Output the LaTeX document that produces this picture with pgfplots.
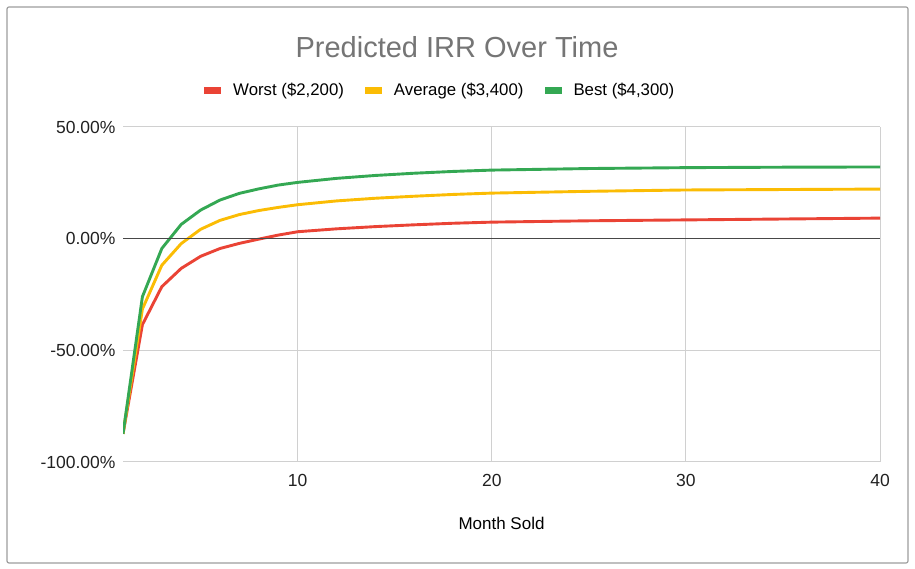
\documentclass[border=0pt]{standalone}
\usepackage{pgfplots}
\pgfplotsset{compat=1.18}
\usepackage{fontspec}
\setmainfont{Liberation Sans}
\definecolor{cred}{HTML}{EA4335}
\definecolor{cyellow}{HTML}{FBBC04}
\definecolor{cgreen}{HTML}{34A853}
\definecolor{titlegray}{HTML}{757575}
\definecolor{gridgray}{HTML}{D0D0D0}
\definecolor{framegray}{HTML}{9E9E9E}
\begin{document}
\begin{tikzpicture}
\fill[white] (0bp,0bp) rectangle (915bp,569bp);
\draw[framegray, line width=1.2bp, rounded corners=2bp] (7bp,6bp) rectangle (908bp,562bp);
\node[titlegray, font=\fontsize{29bp}{34bp}\selectfont] at (457bp,522bp) {Predicted IRR Over Time};
\begin{axis}[
  at={(123bp,107bp)}, anchor=south west,
  scale only axis, width=757bp, height=335bp,
  xmin=1, xmax=40, ymin=-100, ymax=50,
  xtick={10,20,30,40}, xticklabels={10,20,30,40},
  ytick={-100,-50,0,50}, yticklabels={-100.00\%,-50.00\%,0.00\%,50.00\%},
  axis line style={draw=none},
  major tick length=0pt,
  grid=major, grid style={gridgray, line width=1bp},
  ticklabel style={font=\fontsize{17.5bp}{21bp}\selectfont, text=black!87},
  xticklabel style={yshift=-9bp},
  yticklabel style={xshift=-4bp},
  xlabel={Month Sold},
  xlabel style={font=\fontsize{17bp}{21bp}\selectfont, at={(axis description cs:0.5,-0.182)}, anchor=center},
  legend columns=3,
  legend style={draw=none, fill=none, inner sep=0pt, nodes={inner sep=0pt},
    at={(axis description cs:0.107,1.110)}, anchor=west,
    font=\fontsize{16.8bp}{20bp}\selectfont, column sep=0pt},
  legend image code/.code={\fill[#1, draw=none] (0bp,-3.5bp) rectangle (17bp,3.5bp);},
  every axis plot/.append style={line width=2.9bp, line join=round},
]
\addplot[cred] coordinates {(1,-87.4) (2,-38.5) (3,-21.5) (4,-13.3) (5,-7.9) (6,-4.4) (7,-2.1) (8,-0.2) (9,1.6) (10,3.1) (12,4.4) (14,5.4) (16,6.2) (18,6.9) (20,7.4) (25,8.0) (30,8.4) (35,8.8) (40,9.2)};
\addlegendentry{\hspace*{12bp}Worst (\$2,200)\rule{21bp}{0pt}}
\addplot[cyellow] coordinates {(1,-87.4) (2,-31.5) (3,-11.9) (4,-2.2) (5,4.2) (6,8.2) (7,10.8) (8,12.6) (9,14.0) (10,15.2) (12,16.9) (14,18.1) (16,19.0) (18,19.8) (20,20.4) (25,21.2) (30,21.8) (35,22.0) (40,22.2)};
\addlegendentry{\hspace*{12bp}Average (\$3,400)\rule{21bp}{0pt}}
\addplot[cgreen] coordinates {(1,-87.4) (2,-26.0) (3,-4.4) (4,6.4) (5,12.8) (6,17.3) (7,20.3) (8,22.3) (9,24.0) (10,25.2) (12,27.0) (14,28.3) (16,29.3) (18,30.1) (20,30.7) (25,31.4) (30,31.8) (35,32.0) (40,32.1)};
\addlegendentry{\hspace*{12bp}Best (\$4,300)}
\draw[black!72, line width=1.6bp] (axis cs:1,0) -- (axis cs:40,0);
\end{axis}
\end{tikzpicture}
\end{document}
